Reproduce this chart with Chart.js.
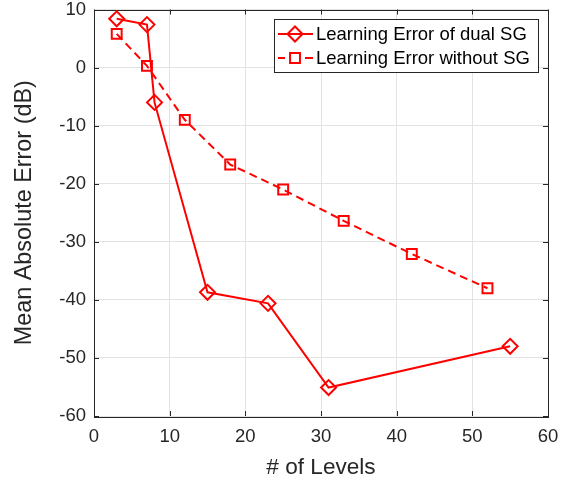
<!DOCTYPE html>
<html>
<head>
<meta charset="utf-8">
<script src="https://cdn.jsdelivr.net/npm/chart.js@4.4.1/dist/chart.umd.min.js"></script>
<style>
  html, body { margin: 0; padding: 0; background: #fff; }
  #wrap { width: 574px; height: 485px; }
</style>
</head>
<body>
<div id="wrap"><canvas id="c" width="574" height="485"></canvas></div>
<script>
// Number of levels vs. mean absolute error (dB)
const levelsDual = [3, 7, 8, 15, 23, 31, 55];
const errorDual = [8.4, 7.4, -6.0, -38.7, -40.6, -55.1, -48.0];

const levelsNoSG = [3, 7, 12, 18, 25, 33, 42, 52];
const errorNoSG = [5.8, 0.3, -9.0, -16.7, -21.0, -26.4, -32.1, -38.0];

const seriesNames = ['Learning Error of dual SG', 'Learning Error without SG'];
const xTicks = [0, 10, 20, 30, 40, 50, 60];
const yTicks = [-60, -50, -40, -30, -20, -10, 0, 10];

const AXIS = '#262626';
const RED = '#ff0000';
const FONT = 'Arial, "Liberation Sans", Helvetica, sans-serif';

const toPoints = (xs, ys) => xs.map((x, i) => ({ x: x, y: ys[i] }));

// Box around the plot with inward ticks on all four sides
const axesBox = {
  id: 'axesBox',
  beforeDatasetsDraw(chart) {
    const { ctx, chartArea: a, scales: { x, y } } = chart;
    const tl = 5;
    ctx.save();
    ctx.strokeStyle = AXIS;
    ctx.lineWidth = 1;
    ctx.beginPath();
    xTicks.forEach(v => {
      const px = Math.round(x.getPixelForValue(v)) + 0.5;
      ctx.moveTo(px, a.bottom); ctx.lineTo(px, a.bottom - tl);
      ctx.moveTo(px, a.top); ctx.lineTo(px, a.top + tl);
    });
    yTicks.forEach(v => {
      const py = Math.round(y.getPixelForValue(v)) + 0.5;
      ctx.moveTo(a.left, py); ctx.lineTo(a.left + tl, py);
      ctx.moveTo(a.right, py); ctx.lineTo(a.right - tl, py);
    });
    ctx.stroke();
    ctx.strokeRect(Math.round(a.left) + 0.5, Math.round(a.top) + 0.5,
      Math.round(a.right - a.left), Math.round(a.bottom - a.top));
    ctx.restore();
  }
};

// Legend box in the upper right of the plot
const legendBox = {
  id: 'legendBox',
  afterDraw(chart) {
    const { ctx } = chart;
    const bx = 274, by = 19, bw = 264, bh = 53;
    ctx.save();
    ctx.fillStyle = '#fff';
    ctx.fillRect(bx, by, bw, bh);
    ctx.strokeStyle = AXIS;
    ctx.lineWidth = 1;
    ctx.strokeRect(bx + 0.5, by + 0.5, bw, bh);

    const rows = [by + 15, by + 39];
    chart.data.datasets.forEach((ds, i) => {
      const yy = rows[i];
      ctx.strokeStyle = ds.borderColor;
      ctx.lineWidth = 2;
      ctx.setLineDash(ds.borderDash || []);
      ctx.beginPath();
      if (ds.borderDash) {
        ctx.moveTo(278, yy); ctx.lineTo(285, yy);
        ctx.moveTo(305, yy); ctx.lineTo(313, yy);
      } else {
        ctx.moveTo(278, yy); ctx.lineTo(313, yy);
      }
      ctx.stroke();
      ctx.setLineDash([]);
      ctx.fillStyle = 'rgba(0,0,0,0)';
      ctx.strokeStyle = ds.pointBorderColor;
      ctx.lineWidth = 2;
      Chart.helpers.drawPoint(ctx, {
        pointStyle: ds.pointStyle, radius: ds.pointRadius,
        borderWidth: 2, rotation: 0
      }, 295, yy);
      ctx.fillStyle = '#000';
      ctx.font = '18.5px ' + FONT;
      ctx.textBaseline = 'middle';
      ctx.textAlign = 'left';
      ctx.fillText(ds.label, 316, yy + 1);
    });
    ctx.restore();
  }
};

new Chart(document.getElementById('c'), {
  type: 'line',
  data: {
    datasets: [
      {
        label: seriesNames[0],
        data: toPoints(levelsDual, errorDual),
        borderColor: RED,
        borderWidth: 2,
        pointStyle: 'rectRot',
        pointRadius: 7.5,
        pointBorderWidth: 2,
        pointBorderColor: RED,
        pointBackgroundColor: 'rgba(0,0,0,0)',
        fill: false,
        tension: 0
      },
      {
        label: seriesNames[1],
        data: toPoints(levelsNoSG, errorNoSG),
        borderColor: RED,
        borderWidth: 2,
        borderDash: [8, 5],
        pointStyle: 'rect',
        pointRadius: 7,
        pointBorderWidth: 2,
        pointBorderColor: RED,
        pointBackgroundColor: 'rgba(0,0,0,0)',
        fill: false,
        tension: 0
      }
    ]
  },
  options: {
    responsive: false,
    animation: false,
    devicePixelRatio: 1,
    layout: { padding: { left: 0, right: 26, top: 0, bottom: 0 } },
    plugins: { legend: { display: false }, tooltip: { enabled: false } },
    scales: {
      x: {
        type: 'linear',
        min: 0, max: 60,
        afterBuildTicks: s => { s.ticks = xTicks.map(v => ({ value: v })); },
        afterFit: s => { s.height = 69; },
        grid: { color: '#e3e3e3', lineWidth: 1, drawTicks: false },
        border: { display: false },
        ticks: { color: AXIS, font: { size: 18.5, family: FONT }, padding: 10, maxRotation: 0 },
        title: {
          display: true, text: '# of Levels', color: AXIS,
          font: { size: 22.6, family: FONT }, padding: { top: 0, bottom: 4 }
        }
      },
      y: {
        type: 'linear',
        min: -60, max: 10,
        afterBuildTicks: s => { s.ticks = yTicks.map(v => ({ value: v })); },
        afterFit: s => { s.width = 94; s.paddingTop = 0; s.paddingBottom = 0; },
        grid: { color: '#e3e3e3', lineWidth: 1, drawTicks: false },
        border: { display: false },
        ticks: { color: AXIS, font: { size: 18.5, family: FONT }, padding: 8 },
        title: {
          display: true, text: 'Mean Absolute Error (dB)', color: AXIS,
          font: { size: 23.4, family: FONT }, padding: { top: 11, bottom: 0 }
        }
      }
    }
  },
  plugins: [axesBox, legendBox]
});
</script>
</body>
</html>
